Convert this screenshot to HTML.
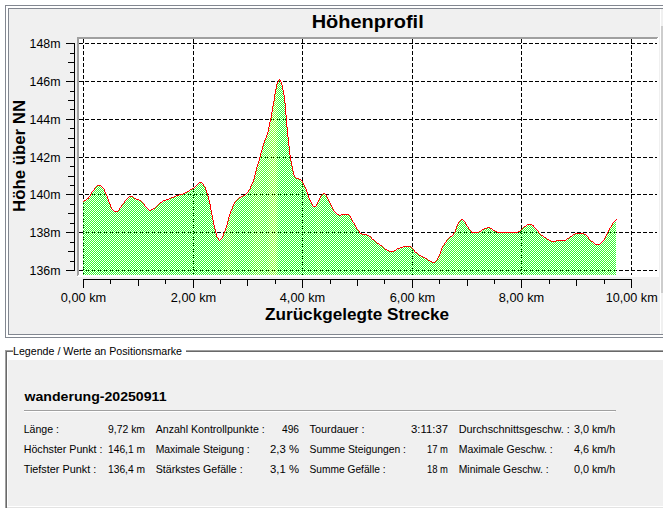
<!DOCTYPE html>
<html lang="de"><head><meta charset="utf-8"><title>Höhenprofil</title>
<style>
html,body{margin:0;padding:0;background:#fff;}
body{width:663px;height:508px;overflow:hidden;font-family:"Liberation Sans",sans-serif;}
svg{display:block;position:absolute;left:0;top:0;}
text{font-family:"Liberation Sans",sans-serif;fill:#000;}
.b{font-weight:bold;}
.ce{shape-rendering:crispEdges;}
</style></head><body>
<svg width="663" height="508" viewBox="0 0 663 508">
<defs>
<pattern id="chk" x="0" y="0" width="2" height="2" patternUnits="userSpaceOnUse"><rect x="1" y="0" width="1" height="1" fill="#fff"/><rect x="0" y="1" width="1" height="1" fill="#fff"/></pattern>
<mask id="chkm" maskUnits="userSpaceOnUse" x="0" y="0" width="663" height="508"><rect x="0" y="0" width="663" height="508" fill="url(#chk)" class="ce"/></mask>
<linearGradient id="fg" gradientUnits="userSpaceOnUse" x1="83" y1="0" x2="616" y2="0">
<stop offset="0.0009" stop-color="#2eff2e"/>
<stop offset="0.0084" stop-color="#31ff2e"/>
<stop offset="0.0103" stop-color="#34ff2e"/>
<stop offset="0.0122" stop-color="#37ff2e"/>
<stop offset="0.0235" stop-color="#34ff2e"/>
<stop offset="0.0253" stop-color="#31ff2e"/>
<stop offset="0.0272" stop-color="#2eff2e"/>
<stop offset="0.0291" stop-color="#2bff2e"/>
<stop offset="0.0647" stop-color="#2eff2e"/>
<stop offset="0.0666" stop-color="#32ff2e"/>
<stop offset="0.0685" stop-color="#36ff2e"/>
<stop offset="0.0816" stop-color="#33ff2e"/>
<stop offset="0.0854" stop-color="#2fff2e"/>
<stop offset="0.0872" stop-color="#2cff2e"/>
<stop offset="0.1341" stop-color="#2fff2e"/>
<stop offset="0.1529" stop-color="#2cff2e"/>
<stop offset="0.2054" stop-color="#2fff2e"/>
<stop offset="0.2205" stop-color="#2bff2e"/>
<stop offset="0.2580" stop-color="#2fff2e"/>
<stop offset="0.2598" stop-color="#36ff2e"/>
<stop offset="0.2617" stop-color="#3eff2e"/>
<stop offset="0.2636" stop-color="#44ff2e"/>
<stop offset="0.2655" stop-color="#48ff2e"/>
<stop offset="0.2674" stop-color="#4dff2e"/>
<stop offset="0.2692" stop-color="#53ff2e"/>
<stop offset="0.2711" stop-color="#58ff2e"/>
<stop offset="0.2749" stop-color="#55ff2e"/>
<stop offset="0.2767" stop-color="#4fff2e"/>
<stop offset="0.2786" stop-color="#49ff2e"/>
<stop offset="0.2805" stop-color="#44ff2e"/>
<stop offset="0.2824" stop-color="#40ff2e"/>
<stop offset="0.2842" stop-color="#3cff2e"/>
<stop offset="0.2861" stop-color="#38ff2e"/>
<stop offset="0.2880" stop-color="#34ff2e"/>
<stop offset="0.2899" stop-color="#31ff2e"/>
<stop offset="0.2955" stop-color="#2eff2e"/>
<stop offset="0.3049" stop-color="#31ff2e"/>
<stop offset="0.3086" stop-color="#31ff2e"/>
<stop offset="0.3105" stop-color="#37ff2e"/>
<stop offset="0.3124" stop-color="#3cff2e"/>
<stop offset="0.3143" stop-color="#40ff2e"/>
<stop offset="0.3161" stop-color="#44ff2e"/>
<stop offset="0.3180" stop-color="#49ff2e"/>
<stop offset="0.3199" stop-color="#50ff2e"/>
<stop offset="0.3218" stop-color="#58ff2e"/>
<stop offset="0.3236" stop-color="#5cff2e"/>
<stop offset="0.3293" stop-color="#59ff2e"/>
<stop offset="0.3368" stop-color="#55ff2e"/>
<stop offset="0.3386" stop-color="#50ff2e"/>
<stop offset="0.3405" stop-color="#4bff2e"/>
<stop offset="0.3424" stop-color="#4bff2e"/>
<stop offset="0.3443" stop-color="#51ff2e"/>
<stop offset="0.3462" stop-color="#5bff2e"/>
<stop offset="0.3480" stop-color="#66ff30"/>
<stop offset="0.3499" stop-color="#6fff30"/>
<stop offset="0.3518" stop-color="#77ff30"/>
<stop offset="0.3537" stop-color="#7fff30"/>
<stop offset="0.3555" stop-color="#85ff30"/>
<stop offset="0.3574" stop-color="#88ff30"/>
<stop offset="0.3593" stop-color="#88ff30"/>
<stop offset="0.3612" stop-color="#7bff30"/>
<stop offset="0.3630" stop-color="#67ff30"/>
<stop offset="0.3649" stop-color="#4eff2e"/>
<stop offset="0.3668" stop-color="#3aff2e"/>
<stop offset="0.3687" stop-color="#2eff2e"/>
<stop offset="0.3705" stop-color="#2aff2e"/>
<stop offset="0.4343" stop-color="#2aff2e"/>
<stop offset="0.4362" stop-color="#30ff2e"/>
<stop offset="0.4381" stop-color="#37ff2e"/>
<stop offset="0.4400" stop-color="#3cff2e"/>
<stop offset="0.4418" stop-color="#3fff2e"/>
<stop offset="0.4456" stop-color="#3cff2e"/>
<stop offset="0.4475" stop-color="#37ff2e"/>
<stop offset="0.4493" stop-color="#31ff2e"/>
<stop offset="0.4512" stop-color="#2dff2e"/>
<stop offset="0.4531" stop-color="#2aff2e"/>
<stop offset="0.5844" stop-color="#2dff2e"/>
<stop offset="0.6051" stop-color="#2aff2e"/>
<stop offset="0.6595" stop-color="#2dff2e"/>
<stop offset="0.6614" stop-color="#31ff2e"/>
<stop offset="0.6632" stop-color="#35ff2e"/>
<stop offset="0.6651" stop-color="#3aff2e"/>
<stop offset="0.6670" stop-color="#40ff2e"/>
<stop offset="0.6689" stop-color="#45ff2e"/>
<stop offset="0.6745" stop-color="#41ff2e"/>
<stop offset="0.6764" stop-color="#3dff2e"/>
<stop offset="0.6782" stop-color="#39ff2e"/>
<stop offset="0.6820" stop-color="#35ff2e"/>
<stop offset="0.6857" stop-color="#32ff2e"/>
<stop offset="0.6951" stop-color="#37ff2e"/>
<stop offset="0.6970" stop-color="#3dff2e"/>
<stop offset="0.6989" stop-color="#42ff2e"/>
<stop offset="0.7026" stop-color="#42ff2e"/>
<stop offset="0.7045" stop-color="#3cff2e"/>
<stop offset="0.7064" stop-color="#36ff2e"/>
<stop offset="0.7083" stop-color="#31ff2e"/>
<stop offset="0.7101" stop-color="#2dff2e"/>
<stop offset="0.7139" stop-color="#2aff2e"/>
<stop offset="0.7439" stop-color="#2eff2e"/>
<stop offset="0.7570" stop-color="#2bff2e"/>
<stop offset="0.8189" stop-color="#2fff2e"/>
<stop offset="0.8358" stop-color="#2bff2e"/>
<stop offset="0.9071" stop-color="#2eff2e"/>
<stop offset="0.9259" stop-color="#2bff2e"/>
<stop offset="0.9709" stop-color="#2fff2e"/>
<stop offset="0.9728" stop-color="#32ff2e"/>
<stop offset="0.9765" stop-color="#37ff2e"/>
<stop offset="0.9784" stop-color="#3aff2e"/>
<stop offset="0.9803" stop-color="#3dff2e"/>
<stop offset="0.9916" stop-color="#3aff2e"/>
<stop offset="0.9953" stop-color="#36ff2e"/>
<stop offset="0.9991" stop-color="#33ff2e"/>
</linearGradient>
<clipPath id="cv"><rect x="79" y="39" width="578" height="236"/></clipPath>
</defs>
<g class="ce">
<rect x="0" y="0" width="663" height="508" fill="#fff"/>
<rect x="5" y="5" width="700" height="333" fill="#828790"/>
<rect x="6" y="6" width="700" height="331" fill="#fff"/>
<rect x="8" y="8" width="700" height="327" fill="#828790"/>
<rect x="9" y="9" width="700" height="325" fill="#f0f0f0"/>
<rect x="660" y="9" width="1" height="325" fill="#fff"/>
<rect x="661" y="26" width="2" height="267" fill="#cdcdcd"/>
<rect x="77" y="37" width="582" height="240" fill="#fff"/>
<path d="M77 37H658V38H657V39H79V275H78V276H77Z" fill="#a0a0a0"/>
<path d="M83.5 39V275" stroke="#000" stroke-width="1" stroke-dasharray="4 2" fill="none"/>
<path d="M193.5 39V275" stroke="#000" stroke-width="1" stroke-dasharray="4 2" fill="none"/>
<path d="M302.5 39V275" stroke="#000" stroke-width="1" stroke-dasharray="4 2" fill="none"/>
<path d="M412.5 39V275" stroke="#000" stroke-width="1" stroke-dasharray="4 2" fill="none"/>
<path d="M521.5 39V275" stroke="#000" stroke-width="1" stroke-dasharray="4 2" fill="none"/>
<path d="M631.5 39V275" stroke="#000" stroke-width="1" stroke-dasharray="4 2" fill="none"/>
<path d="M79 43.5H657" stroke="#000" stroke-width="1" stroke-dasharray="4 2" fill="none"/>
<path d="M79 81.5H657" stroke="#000" stroke-width="1" stroke-dasharray="4 2" fill="none"/>
<path d="M79 119.5H657" stroke="#000" stroke-width="1" stroke-dasharray="4 2" fill="none"/>
<path d="M79 157.5H657" stroke="#000" stroke-width="1" stroke-dasharray="4 2" fill="none"/>
<path d="M79 194.5H657" stroke="#000" stroke-width="1" stroke-dasharray="4 2" fill="none"/>
<path d="M79 232.5H657" stroke="#000" stroke-width="1" stroke-dasharray="4 2" fill="none"/>
<path d="M79 270.5H657" stroke="#000" stroke-width="1" stroke-dasharray="4 2" fill="none"/>
</g>
<clipPath id="cf"><rect x="83" y="39" width="533" height="236"/></clipPath>
<g clip-path="url(#cv)"><g clip-path="url(#cf)"><path d="M83.0 201.8 L85.5 200.0 L88.6 198.0 L90.0 195.6 L91.7 192.8 L94.0 189.5 L96.3 186.5 L98.2 185.4 L100.9 185.4 L102.5 187.0 L103.9 188.8 L105.5 193.0 L107.7 198.0 L110.4 205.5 L111.4 208.2 L114.4 211.2 L118.0 211.2 L120.4 207.6 L123.4 203.4 L126.5 199.1 L129.5 196.7 L132.5 196.7 L135.5 198.9 L139.7 200.3 L142.7 202.8 L146.4 207.6 L150.0 210.6 L153.6 208.8 L157.2 205.8 L162.1 201.5 L166.0 199.9 L170.7 198.3 L175.5 196.3 L180.2 194.7 L184.9 193.3 L188.8 190.9 L193.6 188.1 L197.5 184.2 L200.6 182.3 L203.0 183.8 L205.4 188.1 L207.7 195.2 L210.1 204.6 L212.4 217.2 L214.8 228.2 L216.8 236.9 L219.5 240.3 L221.9 238.4 L224.2 232.9 L226.6 226.6 L229.0 217.2 L231.3 210.1 L233.7 204.6 L236.0 200.7 L239.5 197.7 L241.5 196.5 L243.5 195.6 L244.5 195.0 L245.5 194.0 L246.5 193.0 L247.5 192.2 L248.5 191.2 L249.5 189.7 L250.5 187.7 L251.5 185.2 L252.5 182.9 L253.5 180.5 L254.5 177.0 L255.5 173.0 L256.5 169.0 L257.5 165.2 L258.5 162.3 L259.5 158.7 L260.5 154.7 L261.5 151.3 L262.5 147.9 L263.5 144.3 L264.5 141.4 L265.5 139.4 L266.5 137.0 L267.5 133.5 L268.5 129.5 L269.4 125.1 L270.8 118.9 L272.2 110.6 L273.6 103.0 L274.5 97.5 L275.5 91.0 L276.5 86.0 L277.5 82.5 L278.5 80.5 L279.5 79.4 L280.5 81.0 L281.5 83.5 L282.5 87.0 L283.5 92.5 L284.5 98.0 L285.5 109.0 L286.5 122.0 L287.5 133.0 L288.5 141.0 L289.5 152.0 L290.5 158.4 L291.5 163.4 L292.5 168.2 L293.5 173.3 L294.5 176.4 L295.5 177.4 L296.5 178.3 L298.4 178.8 L301.4 180.0 L303.6 183.7 L305.8 188.9 L308.0 195.5 L310.3 200.7 L312.5 205.1 L314.4 206.9 L316.2 205.8 L318.4 201.4 L320.6 197.0 L321.6 194.8 L323.9 193.3 L326.1 194.8 L328.3 199.2 L330.5 204.3 L333.4 210.2 L337.1 214.2 L340.1 215.4 L343.0 214.2 L348.9 214.4 L351.2 218.4 L354.1 223.5 L357.1 228.7 L360.0 232.8 L363.0 234.3 L366.6 234.6 L369.6 236.1 L373.3 239.8 L377.0 242.7 L381.4 245.7 L385.8 249.4 L389.5 251.3 L393.2 251.6 L396.2 249.6 L398.4 248.3 L401.6 247.5 L404.6 246.3 L409.8 246.3 L412.0 247.8 L414.9 251.5 L419.3 255.5 L424.5 257.4 L428.9 260.3 L432.6 262.5 L434.8 262.5 L437.8 258.9 L440.0 253.7 L442.2 247.8 L445.2 242.6 L448.9 238.2 L451.8 236.0 L454.8 232.3 L457.0 226.4 L459.2 222.0 L462.1 219.3 L464.4 221.2 L466.6 224.9 L468.8 228.6 L471.7 232.3 L475.4 232.6 L478.9 232.3 L481.8 230.1 L485.3 228.5 L488.6 227.6 L491.2 228.6 L494.2 230.8 L497.1 232.3 L504.5 232.4 L517.8 232.4 L520.0 230.8 L523.7 227.4 L527.4 224.9 L530.3 224.2 L533.3 225.7 L536.2 229.3 L539.9 233.8 L543.6 236.7 L547.3 239.2 L551.0 241.2 L555.6 241.2 L558.2 240.4 L565.3 240.4 L568.4 238.2 L572.1 236.0 L575.1 233.5 L579.5 233.0 L583.9 233.5 L586.9 236.0 L589.8 239.7 L592.8 242.2 L595.7 244.4 L599.4 244.4 L602.4 241.9 L604.8 238.4 L606.6 235.0 L608.2 231.5 L610.5 227.5 L612.4 224.2 L614.5 221.5 L616.9 219.1 L617 275 L83 275 Z" fill="url(#fg)" mask="url(#chkm)" class="ce"/></g>
<path d="M279 79h1v1h-1zM278 80h1v1h-1zM280 80h1v1h-1zM278 81h1v1h-1zM280 81h1v1h-1zM277 82h1v1h-1zM281 82h1v1h-1zM277 83h1v1h-1zM281 83h1v1h-1zM276 84h1v1h-1zM281 84h1v1h-1zM276 85h1v1h-1zM282 85h1v1h-1zM276 86h1v1h-1zM282 86h1v1h-1zM276 87h1v1h-1zM282 87h1v1h-1zM276 88h1v1h-1zM282 88h1v1h-1zM275 89h1v1h-1zM282 89h1v1h-1zM275 90h1v1h-1zM283 90h1v1h-1zM275 91h1v1h-1zM283 91h1v1h-1zM275 92h1v1h-1zM283 92h1v1h-1zM275 93h1v1h-1zM283 93h1v1h-1zM274 94h1v1h-1zM283 94h1v1h-1zM274 95h1v1h-1zM284 95h1v1h-1zM274 96h1v1h-1zM284 96h1v1h-1zM274 97h1v1h-1zM284 97h1v1h-1zM274 98h1v1h-1zM284 98h1v1h-1zM274 99h1v1h-1zM284 99h1v1h-1zM274 100h1v1h-1zM284 100h1v1h-1zM273 101h1v1h-1zM284 101h1v1h-1zM273 102h1v1h-1zM284 102h1v1h-1zM273 103h1v1h-1zM285 103h1v1h-1zM273 104h1v1h-1zM285 104h1v1h-1zM273 105h1v1h-1zM285 105h1v1h-1zM272 106h1v1h-1zM285 106h1v1h-1zM272 107h1v1h-1zM285 107h1v1h-1zM272 108h1v1h-1zM285 108h1v1h-1zM272 109h1v1h-1zM285 109h1v1h-1zM272 110h1v1h-1zM285 110h1v1h-1zM272 111h1v1h-1zM285 111h1v1h-1zM271 112h1v1h-1zM285 112h1v1h-1zM271 113h1v1h-1zM285 113h1v1h-1zM271 114h1v1h-1zM285 114h1v1h-1zM271 115h1v1h-1zM286 115h1v1h-1zM271 116h1v1h-1zM286 116h1v1h-1zM271 117h1v1h-1zM286 117h1v1h-1zM270 118h1v1h-1zM286 118h1v1h-1zM270 119h1v1h-1zM286 119h1v1h-1zM270 120h1v1h-1zM286 120h1v1h-1zM270 121h1v1h-1zM286 121h1v1h-1zM269 122h1v1h-1zM286 122h1v1h-1zM269 123h1v1h-1zM286 123h1v1h-1zM269 124h1v1h-1zM286 124h1v1h-1zM269 125h1v1h-1zM286 125h1v1h-1zM269 126h1v1h-1zM286 126h1v1h-1zM268 127h1v1h-1zM287 127h1v1h-1zM268 128h1v1h-1zM287 128h1v1h-1zM268 129h1v1h-1zM287 129h1v1h-1zM268 130h1v1h-1zM287 130h1v1h-1zM268 131h1v1h-1zM287 131h1v1h-1zM267 132h1v1h-1zM287 132h1v1h-1zM267 133h1v1h-1zM287 133h1v1h-1zM267 134h1v1h-1zM287 134h1v1h-1zM266 135h1v1h-1zM287 135h1v1h-1zM266 136h1v1h-1zM287 136h1v1h-1zM266 137h1v1h-1zM288 137h1v1h-1zM265 138h1v1h-1zM288 138h1v1h-1zM265 139h1v1h-1zM288 139h1v1h-1zM264 140h1v1h-1zM288 140h1v1h-1zM264 141h1v1h-1zM288 141h1v1h-1zM264 142h1v1h-1zM288 142h1v1h-1zM263 143h1v1h-1zM288 143h1v1h-1zM263 144h1v1h-1zM288 144h1v1h-1zM263 145h1v1h-1zM288 145h1v1h-1zM262 146h1v1h-1zM289 146h1v1h-1zM262 147h1v1h-1zM289 147h1v1h-1zM262 148h1v1h-1zM289 148h1v1h-1zM262 149h1v1h-1zM289 149h1v1h-1zM261 150h1v1h-1zM289 150h1v1h-1zM261 151h1v1h-1zM289 151h1v1h-1zM261 152h1v1h-1zM289 152h1v1h-1zM260 153h1v1h-1zM289 153h1v1h-1zM260 154h1v1h-1zM289 154h1v1h-1zM260 155h1v1h-1zM290 155h1v1h-1zM260 156h1v1h-1zM290 156h1v1h-1zM259 157h1v1h-1zM290 157h1v1h-1zM259 158h1v1h-1zM290 158h1v1h-1zM259 159h1v1h-1zM290 159h1v1h-1zM259 160h1v1h-1zM290 160h1v1h-1zM258 161h1v1h-1zM291 161h1v1h-1zM258 162h1v1h-1zM291 162h1v1h-1zM258 163h1v1h-1zM291 163h1v1h-1zM257 164h1v1h-1zM291 164h1v1h-1zM257 165h1v1h-1zM291 165h1v1h-1zM257 166h1v1h-1zM292 166h1v1h-1zM256 167h1v1h-1zM292 167h1v1h-1zM256 168h1v1h-1zM292 168h1v1h-1zM256 169h1v1h-1zM292 169h1v1h-1zM256 170h1v1h-1zM292 170h1v1h-1zM255 171h1v1h-1zM293 171h1v1h-1zM255 172h1v1h-1zM293 172h1v1h-1zM255 173h1v1h-1zM293 173h1v1h-1zM255 174h1v1h-1zM293 174h1v1h-1zM254 175h1v1h-1zM294 175h1v1h-1zM254 176h1v1h-1zM294 176h1v1h-1zM254 177h1v1h-1zM295 177h1v1h-1zM254 178h1v1h-1zM296 178h3v1h-3zM253 179h1v1h-1zM299 179h2v1h-2zM253 180h1v1h-1zM301 180h1v1h-1zM253 181h1v1h-1zM302 181h1v1h-1zM199 182h3v1h-3zM252 182h1v1h-1zM302 182h1v1h-1zM198 183h1v1h-1zM202 183h1v1h-1zM252 183h1v1h-1zM303 183h1v1h-1zM197 184h1v1h-1zM203 184h1v1h-1zM251 184h1v1h-1zM303 184h1v1h-1zM97 185h4v1h-4zM196 185h1v1h-1zM203 185h1v1h-1zM251 185h1v1h-1zM304 185h1v1h-1zM96 186h1v1h-1zM101 186h1v1h-1zM195 186h1v1h-1zM204 186h1v1h-1zM250 186h1v1h-1zM304 186h1v1h-1zM95 187h1v1h-1zM102 187h1v1h-1zM194 187h1v1h-1zM205 187h1v1h-1zM250 187h1v1h-1zM305 187h1v1h-1zM94 188h1v1h-1zM103 188h1v1h-1zM192 188h2v1h-2zM205 188h1v1h-1zM250 188h1v1h-1zM305 188h1v1h-1zM94 189h1v1h-1zM104 189h1v1h-1zM190 189h2v1h-2zM205 189h1v1h-1zM249 189h1v1h-1zM306 189h1v1h-1zM93 190h1v1h-1zM104 190h1v1h-1zM189 190h1v1h-1zM206 190h1v1h-1zM248 190h1v1h-1zM306 190h1v1h-1zM92 191h1v1h-1zM104 191h1v1h-1zM187 191h2v1h-2zM206 191h1v1h-1zM248 191h1v1h-1zM306 191h1v1h-1zM91 192h1v1h-1zM105 192h1v1h-1zM185 192h2v1h-2zM206 192h1v1h-1zM247 192h1v1h-1zM307 192h1v1h-1zM91 193h1v1h-1zM105 193h1v1h-1zM183 193h2v1h-2zM207 193h1v1h-1zM246 193h1v1h-1zM307 193h1v1h-1zM323 193h2v1h-2zM90 194h1v1h-1zM106 194h1v1h-1zM179 194h4v1h-4zM207 194h1v1h-1zM245 194h1v1h-1zM307 194h1v1h-1zM322 194h1v1h-1zM325 194h1v1h-1zM90 195h1v1h-1zM106 195h1v1h-1zM176 195h3v1h-3zM207 195h1v1h-1zM243 195h2v1h-2zM308 195h1v1h-1zM321 195h1v1h-1zM326 195h1v1h-1zM89 196h1v1h-1zM107 196h1v1h-1zM129 196h4v1h-4zM174 196h2v1h-2zM208 196h1v1h-1zM241 196h2v1h-2zM308 196h1v1h-1zM320 196h1v1h-1zM326 196h1v1h-1zM88 197h1v1h-1zM107 197h1v1h-1zM128 197h1v1h-1zM133 197h1v1h-1zM171 197h3v1h-3zM208 197h1v1h-1zM239 197h2v1h-2zM308 197h1v1h-1zM320 197h1v1h-1zM327 197h1v1h-1zM87 198h2v1h-2zM107 198h1v1h-1zM127 198h1v1h-1zM134 198h2v1h-2zM169 198h2v1h-2zM208 198h1v1h-1zM238 198h1v1h-1zM309 198h1v1h-1zM319 198h1v1h-1zM327 198h1v1h-1zM86 199h1v1h-1zM108 199h1v1h-1zM126 199h1v1h-1zM136 199h3v1h-3zM166 199h3v1h-3zM208 199h1v1h-1zM237 199h1v1h-1zM309 199h1v1h-1zM319 199h1v1h-1zM328 199h1v1h-1zM84 200h2v1h-2zM108 200h1v1h-1zM125 200h1v1h-1zM139 200h2v1h-2zM163 200h3v1h-3zM209 200h1v1h-1zM236 200h1v1h-1zM310 200h1v1h-1zM318 200h1v1h-1zM328 200h1v1h-1zM83 201h1v1h-1zM108 201h1v1h-1zM124 201h1v1h-1zM141 201h1v1h-1zM162 201h1v1h-1zM209 201h1v1h-1zM235 201h1v1h-1zM310 201h1v1h-1zM318 201h1v1h-1zM329 201h1v1h-1zM109 202h1v1h-1zM124 202h1v1h-1zM142 202h1v1h-1zM160 202h2v1h-2zM209 202h1v1h-1zM234 202h1v1h-1zM311 202h1v1h-1zM317 202h1v1h-1zM329 202h1v1h-1zM109 203h1v1h-1zM123 203h1v1h-1zM143 203h1v1h-1zM159 203h1v1h-1zM209 203h1v1h-1zM234 203h1v1h-1zM311 203h1v1h-1zM317 203h1v1h-1zM330 203h1v1h-1zM110 204h1v1h-1zM122 204h1v1h-1zM144 204h1v1h-1zM158 204h1v1h-1zM210 204h1v1h-1zM233 204h1v1h-1zM312 204h1v1h-1zM316 204h1v1h-1zM330 204h1v1h-1zM110 205h1v1h-1zM121 205h1v1h-1zM144 205h1v1h-1zM157 205h1v1h-1zM210 205h1v1h-1zM233 205h1v1h-1zM312 205h1v1h-1zM316 205h1v1h-1zM331 205h1v1h-1zM110 206h1v1h-1zM121 206h1v1h-1zM145 206h1v1h-1zM156 206h1v1h-1zM210 206h1v1h-1zM232 206h1v1h-1zM313 206h3v1h-3zM331 206h1v1h-1zM111 207h1v1h-1zM120 207h1v1h-1zM146 207h1v1h-1zM155 207h1v1h-1zM210 207h1v1h-1zM232 207h1v1h-1zM332 207h1v1h-1zM111 208h1v1h-1zM119 208h1v1h-1zM147 208h1v1h-1zM153 208h2v1h-2zM210 208h1v1h-1zM232 208h1v1h-1zM332 208h1v1h-1zM112 209h1v1h-1zM119 209h1v1h-1zM148 209h1v1h-1zM151 209h2v1h-2zM210 209h1v1h-1zM231 209h1v1h-1zM333 209h1v1h-1zM113 210h1v1h-1zM118 210h1v1h-1zM149 210h2v1h-2zM211 210h1v1h-1zM231 210h1v1h-1zM333 210h1v1h-1zM114 211h4v1h-4zM211 211h1v1h-1zM230 211h1v1h-1zM334 211h1v1h-1zM211 212h1v1h-1zM230 212h1v1h-1zM335 212h1v1h-1zM211 213h1v1h-1zM230 213h1v1h-1zM336 213h1v1h-1zM211 214h1v1h-1zM229 214h1v1h-1zM337 214h2v1h-2zM341 214h8v1h-8zM212 215h1v1h-1zM229 215h1v1h-1zM339 215h2v1h-2zM349 215h1v1h-1zM212 216h1v1h-1zM229 216h1v1h-1zM350 216h1v1h-1zM212 217h1v1h-1zM228 217h1v1h-1zM350 217h1v1h-1zM212 218h1v1h-1zM228 218h1v1h-1zM351 218h1v1h-1zM212 219h1v1h-1zM228 219h1v1h-1zM351 219h1v1h-1zM461 219h2v1h-2zM616 219h1v1h-1zM213 220h1v1h-1zM228 220h1v1h-1zM352 220h1v1h-1zM460 220h1v1h-1zM463 220h1v1h-1zM615 220h1v1h-1zM213 221h1v1h-1zM227 221h1v1h-1zM352 221h1v1h-1zM459 221h1v1h-1zM464 221h1v1h-1zM614 221h1v1h-1zM213 222h1v1h-1zM227 222h1v1h-1zM353 222h1v1h-1zM458 222h1v1h-1zM465 222h1v1h-1zM613 222h1v1h-1zM213 223h1v1h-1zM227 223h1v1h-1zM354 223h1v1h-1zM458 223h1v1h-1zM465 223h1v1h-1zM612 223h1v1h-1zM213 224h1v1h-1zM227 224h1v1h-1zM354 224h1v1h-1zM457 224h1v1h-1zM466 224h1v1h-1zM527 224h5v1h-5zM612 224h1v1h-1zM214 225h1v1h-1zM226 225h1v1h-1zM355 225h1v1h-1zM457 225h1v1h-1zM466 225h1v1h-1zM526 225h1v1h-1zM532 225h2v1h-2zM611 225h1v1h-1zM214 226h1v1h-1zM226 226h1v1h-1zM355 226h1v1h-1zM456 226h1v1h-1zM467 226h1v1h-1zM524 226h2v1h-2zM533 226h1v1h-1zM611 226h1v1h-1zM214 227h1v1h-1zM226 227h1v1h-1zM356 227h1v1h-1zM456 227h1v1h-1zM468 227h1v1h-1zM487 227h3v1h-3zM523 227h1v1h-1zM534 227h1v1h-1zM610 227h1v1h-1zM214 228h1v1h-1zM225 228h1v1h-1zM356 228h1v1h-1zM456 228h1v1h-1zM468 228h1v1h-1zM484 228h3v1h-3zM490 228h2v1h-2zM522 228h1v1h-1zM535 228h1v1h-1zM609 228h1v1h-1zM215 229h1v1h-1zM225 229h1v1h-1zM357 229h1v1h-1zM455 229h1v1h-1zM469 229h1v1h-1zM482 229h2v1h-2zM492 229h1v1h-1zM521 229h1v1h-1zM536 229h1v1h-1zM609 229h1v1h-1zM215 230h1v1h-1zM225 230h1v1h-1zM358 230h1v1h-1zM455 230h1v1h-1zM470 230h1v1h-1zM481 230h1v1h-1zM493 230h2v1h-2zM520 230h1v1h-1zM537 230h1v1h-1zM608 230h1v1h-1zM215 231h1v1h-1zM224 231h1v1h-1zM359 231h1v1h-1zM455 231h1v1h-1zM471 231h1v1h-1zM479 231h2v1h-2zM495 231h2v1h-2zM518 231h2v1h-2zM538 231h1v1h-1zM608 231h1v1h-1zM215 232h1v1h-1zM224 232h1v1h-1zM359 232h1v1h-1zM454 232h1v1h-1zM471 232h8v1h-8zM497 232h21v1h-21zM538 232h1v1h-1zM607 232h1v1h-1zM216 233h1v1h-1zM223 233h1v1h-1zM360 233h2v1h-2zM453 233h1v1h-1zM539 233h1v1h-1zM575 233h9v1h-9zM607 233h1v1h-1zM216 234h1v1h-1zM223 234h1v1h-1zM362 234h5v1h-5zM453 234h1v1h-1zM540 234h1v1h-1zM573 234h2v1h-2zM584 234h2v1h-2zM606 234h1v1h-1zM216 235h1v1h-1zM223 235h1v1h-1zM367 235h2v1h-2zM452 235h1v1h-1zM541 235h2v1h-2zM572 235h1v1h-1zM586 235h1v1h-1zM606 235h1v1h-1zM216 236h1v1h-1zM222 236h1v1h-1zM369 236h2v1h-2zM450 236h2v1h-2zM543 236h1v1h-1zM570 236h2v1h-2zM587 236h1v1h-1zM605 236h1v1h-1zM217 237h1v1h-1zM222 237h1v1h-1zM371 237h1v1h-1zM449 237h1v1h-1zM544 237h2v1h-2zM569 237h1v1h-1zM588 237h1v1h-1zM605 237h1v1h-1zM218 238h1v1h-1zM221 238h1v1h-1zM371 238h1v1h-1zM448 238h1v1h-1zM546 238h1v1h-1zM567 238h2v1h-2zM588 238h1v1h-1zM604 238h1v1h-1zM218 239h1v1h-1zM220 239h1v1h-1zM372 239h2v1h-2zM447 239h1v1h-1zM547 239h2v1h-2zM566 239h1v1h-1zM589 239h1v1h-1zM604 239h1v1h-1zM219 240h1v1h-1zM374 240h1v1h-1zM446 240h1v1h-1zM549 240h2v1h-2zM556 240h10v1h-10zM590 240h1v1h-1zM603 240h1v1h-1zM375 241h1v1h-1zM446 241h1v1h-1zM551 241h5v1h-5zM591 241h2v1h-2zM602 241h1v1h-1zM376 242h1v1h-1zM445 242h1v1h-1zM593 242h1v1h-1zM601 242h1v1h-1zM377 243h2v1h-2zM444 243h1v1h-1zM594 243h1v1h-1zM600 243h1v1h-1zM379 244h1v1h-1zM444 244h1v1h-1zM595 244h5v1h-5zM380 245h2v1h-2zM443 245h1v1h-1zM382 246h1v1h-1zM403 246h8v1h-8zM442 246h1v1h-1zM383 247h1v1h-1zM400 247h3v1h-3zM411 247h1v1h-1zM442 247h1v1h-1zM384 248h1v1h-1zM397 248h3v1h-3zM412 248h1v1h-1zM441 248h1v1h-1zM385 249h2v1h-2zM396 249h1v1h-1zM413 249h1v1h-1zM441 249h1v1h-1zM387 250h2v1h-2zM394 250h2v1h-2zM414 250h1v1h-1zM441 250h1v1h-1zM389 251h5v1h-5zM414 251h1v1h-1zM440 251h1v1h-1zM415 252h2v1h-2zM440 252h1v1h-1zM417 253h1v1h-1zM440 253h1v1h-1zM418 254h1v1h-1zM439 254h1v1h-1zM419 255h2v1h-2zM439 255h1v1h-1zM421 256h2v1h-2zM438 256h1v1h-1zM423 257h2v1h-2zM438 257h1v1h-1zM425 258h2v1h-2zM437 258h1v1h-1zM427 259h1v1h-1zM437 259h1v1h-1zM428 260h2v1h-2zM436 260h1v1h-1zM430 261h2v1h-2zM435 261h1v1h-1zM432 262h3v1h-3z" fill="#ff0000" class="ce"/></g>
<g class="ce" fill="#000">
<rect x="74" y="43" width="1" height="228"/>
<rect x="66" y="43" width="8" height="1"/>
<rect x="70" y="53" width="4" height="1"/>
<rect x="68" y="62" width="6" height="1"/>
<rect x="70" y="72" width="4" height="1"/>
<rect x="66" y="81" width="8" height="1"/>
<rect x="70" y="91" width="4" height="1"/>
<rect x="68" y="100" width="6" height="1"/>
<rect x="70" y="109" width="4" height="1"/>
<rect x="66" y="119" width="8" height="1"/>
<rect x="70" y="128" width="4" height="1"/>
<rect x="68" y="138" width="6" height="1"/>
<rect x="70" y="147" width="4" height="1"/>
<rect x="66" y="157" width="8" height="1"/>
<rect x="70" y="166" width="4" height="1"/>
<rect x="68" y="176" width="6" height="1"/>
<rect x="70" y="185" width="4" height="1"/>
<rect x="66" y="194" width="8" height="1"/>
<rect x="70" y="204" width="4" height="1"/>
<rect x="68" y="213" width="6" height="1"/>
<rect x="70" y="223" width="4" height="1"/>
<rect x="66" y="232" width="8" height="1"/>
<rect x="70" y="242" width="4" height="1"/>
<rect x="68" y="251" width="6" height="1"/>
<rect x="70" y="261" width="4" height="1"/>
<rect x="66" y="270" width="8" height="1"/>
<rect x="83" y="279" width="549" height="1"/>
<rect x="83" y="279" width="1" height="9"/>
<rect x="110" y="279" width="1" height="5"/>
<rect x="138" y="279" width="1" height="7"/>
<rect x="165" y="279" width="1" height="5"/>
<rect x="193" y="279" width="1" height="9"/>
<rect x="220" y="279" width="1" height="5"/>
<rect x="247" y="279" width="1" height="7"/>
<rect x="275" y="279" width="1" height="5"/>
<rect x="302" y="279" width="1" height="9"/>
<rect x="330" y="279" width="1" height="5"/>
<rect x="357" y="279" width="1" height="7"/>
<rect x="384" y="279" width="1" height="5"/>
<rect x="412" y="279" width="1" height="9"/>
<rect x="439" y="279" width="1" height="5"/>
<rect x="467" y="279" width="1" height="7"/>
<rect x="494" y="279" width="1" height="5"/>
<rect x="521" y="279" width="1" height="9"/>
<rect x="549" y="279" width="1" height="5"/>
<rect x="576" y="279" width="1" height="7"/>
<rect x="604" y="279" width="1" height="5"/>
<rect x="631" y="279" width="1" height="9"/>
</g>
<text x="367.7" y="28" font-size="18" text-anchor="middle" class="b" textLength="112" lengthAdjust="spacingAndGlyphs">Höhenprofil</text>
<text x="60.5" y="48" font-size="12" text-anchor="end" textLength="31" lengthAdjust="spacingAndGlyphs">148m</text>
<text x="60.5" y="86" font-size="12" text-anchor="end" textLength="31" lengthAdjust="spacingAndGlyphs">146m</text>
<text x="60.5" y="124" font-size="12" text-anchor="end" textLength="31" lengthAdjust="spacingAndGlyphs">144m</text>
<text x="60.5" y="162" font-size="12" text-anchor="end" textLength="31" lengthAdjust="spacingAndGlyphs">142m</text>
<text x="60.5" y="199" font-size="12" text-anchor="end" textLength="31" lengthAdjust="spacingAndGlyphs">140m</text>
<text x="60.5" y="237" font-size="12" text-anchor="end" textLength="31" lengthAdjust="spacingAndGlyphs">138m</text>
<text x="60.5" y="275" font-size="12" text-anchor="end" textLength="31" lengthAdjust="spacingAndGlyphs">136m</text>
<text x="83.5" y="302" font-size="12" text-anchor="middle" textLength="45.5" lengthAdjust="spacingAndGlyphs">0,00 km</text>
<text x="193.5" y="302" font-size="12" text-anchor="middle" textLength="45.5" lengthAdjust="spacingAndGlyphs">2,00 km</text>
<text x="302.5" y="302" font-size="12" text-anchor="middle" textLength="45.5" lengthAdjust="spacingAndGlyphs">4,00 km</text>
<text x="412.5" y="302" font-size="12" text-anchor="middle" textLength="45.5" lengthAdjust="spacingAndGlyphs">6,00 km</text>
<text x="521.5" y="302" font-size="12" text-anchor="middle" textLength="45.5" lengthAdjust="spacingAndGlyphs">8,00 km</text>
<text x="631.7" y="302" font-size="12" text-anchor="middle" textLength="52" lengthAdjust="spacingAndGlyphs">10,00 km</text>
<text x="357" y="320" font-size="16" text-anchor="middle" class="b" textLength="184" lengthAdjust="spacingAndGlyphs">Zurückgelegte Strecke</text>
<text transform="translate(25,156) rotate(-90)" font-size="16" text-anchor="middle" class="b" textLength="112" lengthAdjust="spacingAndGlyphs">Höhe über NN</text>
<g class="ce">
<rect x="8" y="360" width="700" height="146" fill="#f0f0f0"/>
<rect x="5" y="350" width="1" height="200" fill="#a0a0a0"/>
<rect x="6" y="351" width="1" height="200" fill="#696969"/>
<rect x="5" y="350" width="8" height="1" fill="#a0a0a0"/>
<rect x="6" y="351" width="7" height="1" fill="#696969"/>
<rect x="186" y="350" width="500" height="1" fill="#a0a0a0"/>
<rect x="186" y="351" width="500" height="1" fill="#696969"/>
<rect x="7" y="507" width="700" height="1" fill="#e3e3e3"/>
<rect x="24" y="410" width="592" height="1" fill="#a0a0a0"/>
<rect x="24" y="411" width="591" height="1" fill="#fff"/>
</g>
<text x="13" y="355" font-size="11" textLength="169" lengthAdjust="spacingAndGlyphs">Legende / Werte an Positionsmarke</text>
<text x="24.5" y="400.5" font-size="12" class="b" textLength="142" lengthAdjust="spacingAndGlyphs">wanderung-20250911</text>
<text x="23.7" y="433" font-size="11" textLength="35.3" lengthAdjust="spacingAndGlyphs">Länge :</text>
<text x="145" y="433" font-size="11" text-anchor="end" textLength="37" lengthAdjust="spacingAndGlyphs">9,72 km</text>
<text x="155.7" y="433" font-size="11" textLength="109" lengthAdjust="spacingAndGlyphs">Anzahl Kontrollpunkte :</text>
<text x="299" y="433" font-size="11" text-anchor="end" textLength="17" lengthAdjust="spacingAndGlyphs">496</text>
<text x="309.5" y="433" font-size="11" textLength="55" lengthAdjust="spacingAndGlyphs">Tourdauer :</text>
<text x="448" y="433" font-size="11" text-anchor="end" textLength="37" lengthAdjust="spacingAndGlyphs">3:11:37</text>
<text x="458.7" y="433" font-size="11" textLength="111" lengthAdjust="spacingAndGlyphs">Durchschnittsgeschw. :</text>
<text x="615.4" y="433" font-size="11" text-anchor="end" textLength="41.5" lengthAdjust="spacingAndGlyphs">3,0 km/h</text>
<text x="23.7" y="453" font-size="11" textLength="78.8" lengthAdjust="spacingAndGlyphs">Höchster Punkt :</text>
<text x="145" y="453" font-size="11" text-anchor="end" textLength="37" lengthAdjust="spacingAndGlyphs">146,1 m</text>
<text x="155.7" y="453" font-size="11" textLength="94" lengthAdjust="spacingAndGlyphs">Maximale Steigung :</text>
<text x="299" y="453" font-size="11" text-anchor="end" textLength="29" lengthAdjust="spacingAndGlyphs">2,3 %</text>
<text x="309.5" y="453" font-size="11" textLength="96.5" lengthAdjust="spacingAndGlyphs">Summe Steigungen :</text>
<text x="448" y="453" font-size="11" text-anchor="end" textLength="21" lengthAdjust="spacingAndGlyphs">17 m</text>
<text x="458.7" y="453" font-size="11" textLength="94" lengthAdjust="spacingAndGlyphs">Maximale Geschw. :</text>
<text x="615.4" y="453" font-size="11" text-anchor="end" textLength="41.5" lengthAdjust="spacingAndGlyphs">4,6 km/h</text>
<text x="23.7" y="473" font-size="11" textLength="72.5" lengthAdjust="spacingAndGlyphs">Tiefster Punkt :</text>
<text x="145" y="473" font-size="11" text-anchor="end" textLength="37" lengthAdjust="spacingAndGlyphs">136,4 m</text>
<text x="155.7" y="473" font-size="11" textLength="87" lengthAdjust="spacingAndGlyphs">Stärkstes Gefälle :</text>
<text x="299" y="473" font-size="11" text-anchor="end" textLength="29" lengthAdjust="spacingAndGlyphs">3,1 %</text>
<text x="309.5" y="473" font-size="11" textLength="76" lengthAdjust="spacingAndGlyphs">Summe Gefälle :</text>
<text x="448" y="473" font-size="11" text-anchor="end" textLength="21" lengthAdjust="spacingAndGlyphs">18 m</text>
<text x="458.7" y="473" font-size="11" textLength="90" lengthAdjust="spacingAndGlyphs">Minimale Geschw. :</text>
<text x="615.4" y="473" font-size="11" text-anchor="end" textLength="41.5" lengthAdjust="spacingAndGlyphs">0,0 km/h</text>
</svg></body></html>
